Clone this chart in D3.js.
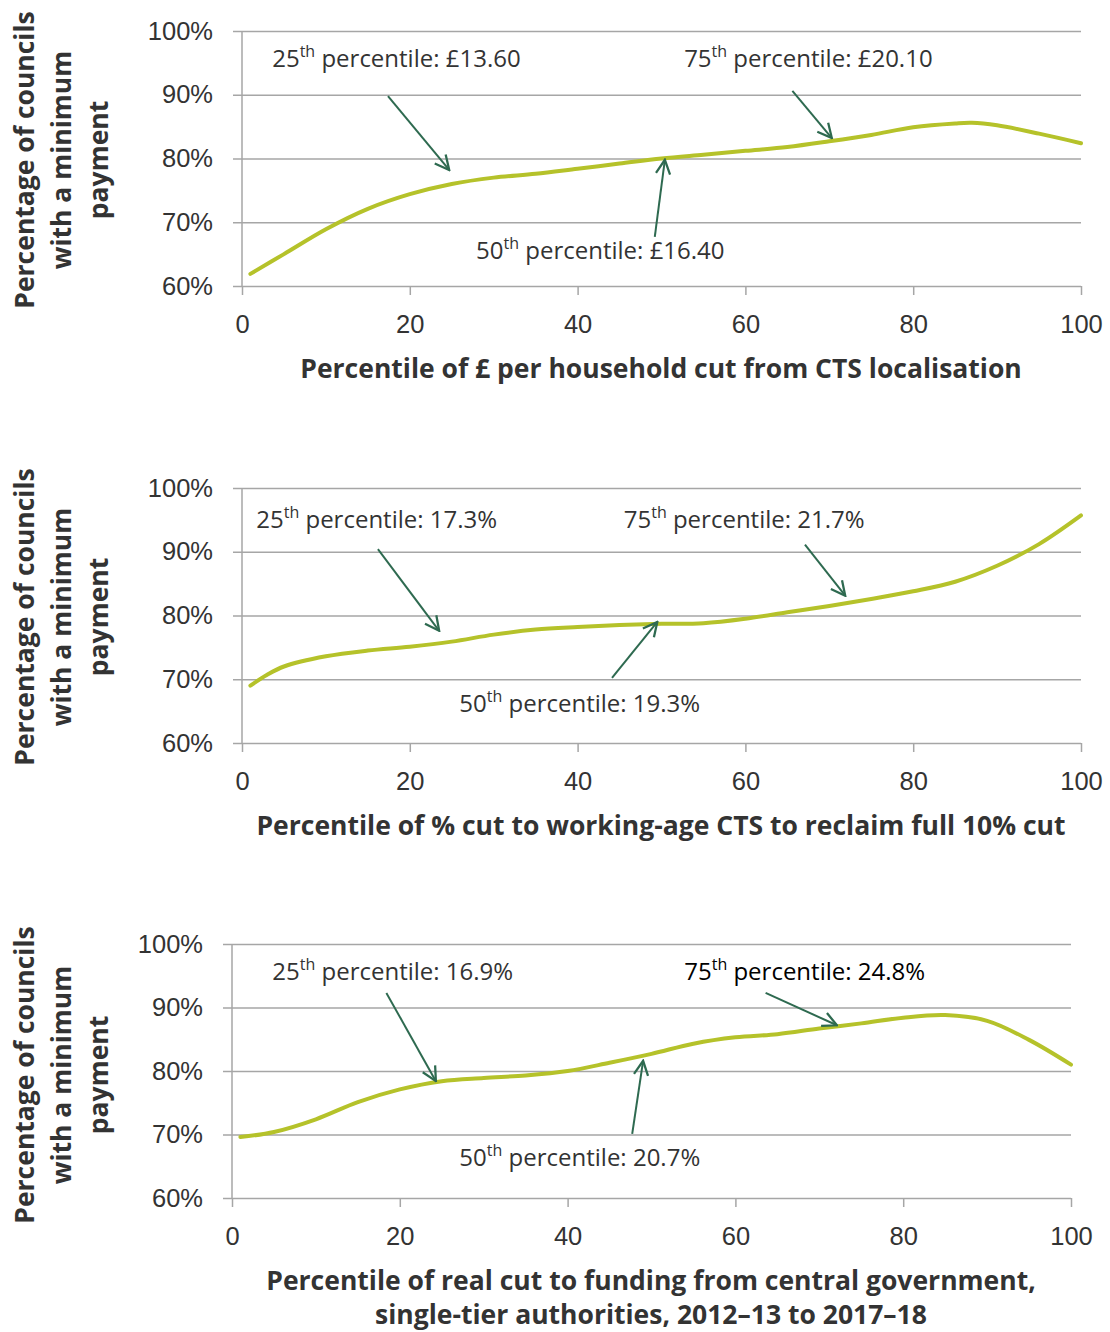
<!DOCTYPE html>
<html>
<head>
<meta charset="utf-8">
<script src="https://cdn.jsdelivr.net/npm/d3@7"></script>
<style>
  body { margin: 0; background: #fff; }
  svg { font-family: "Open Sans", "Noto Sans", sans-serif; }
  .tick text { fill: #333; font-size: 25.5px; }
</style>
</head>
<body>
<script>

// percentile positions and % of councils with a minimum payment
var xs1 = [1, 5, 10, 15, 20, 25, 30, 35, 40, 45, 50, 55, 60, 65, 70, 75, 80, 85, 87, 90, 95, 100];
var ys1 = [61.9, 65.0, 68.9, 72.1, 74.4, 76.0, 77.0, 77.6, 78.4, 79.2, 80.0, 80.6, 81.2, 81.8, 82.7, 83.7, 84.9, 85.5, 85.6, 85.2, 83.9, 82.4];

var xs2 = [1, 3, 5, 10, 15, 20, 25, 30, 35, 40, 45, 50, 55, 60, 65, 70, 75, 80, 85, 90, 95, 100];
var ys2 = [69.0, 70.7, 72.0, 73.6, 74.5, 75.1, 75.9, 77.0, 77.8, 78.2, 78.5, 78.7, 78.8, 79.5, 80.5, 81.5, 82.6, 83.8, 85.3, 87.8, 91.2, 95.7];

var xs3 = [1, 5, 10, 15, 20, 25, 30, 35, 40, 45, 50, 55, 60, 65, 70, 75, 80, 85, 90, 95, 100];
var ys3 = [69.6, 70.4, 72.4, 75.1, 77.1, 78.4, 78.9, 79.3, 80.0, 81.3, 82.7, 84.3, 85.3, 85.8, 86.7, 87.5, 88.4, 88.8, 87.9, 84.9, 81.0];

var xTicks = [0, 20, 40, 60, 80, 100];
var yTicks = [60, 70, 80, 90, 100];

var yTitle = ["Percentage of councils", "with a minimum", "payment"];
var xTitle1 = ["Percentile of £ per household cut from CTS localisation"];
var xTitle2 = ["Percentile of % cut to working-age CTS to reclaim full 10% cut"];
var xTitle3 = ["Percentile of real cut to funding from central government,", "single-tier authorities, 2012\u201313 to 2017\u201318"];

// annotations: ordinal, text, label anchor (data), arrow start -> tip (data)
var notes1 = [
  {n: "25", t: " percentile: £13.60", lx: 3.6, ly: 94.4, x1: 17.4, y1: 89.8, x2: 24.7, y2: 78.2},
  {n: "75", t: " percentile: £20.10", lx: 52.7, ly: 94.4, x1: 65.6, y1: 90.6, x2: 70.3, y2: 83.2},
  {n: "50", t: " percentile: £16.40", lx: 27.9, ly: 64.2, x1: 49.2, y1: 67.7, x2: 50.4, y2: 79.8}
];
var notes2 = [
  {n: "25", t: " percentile: 17.3%", lx: 1.7, ly: 93.7, x1: 16.2, y1: 90.4, x2: 23.5, y2: 77.6},
  {n: "75", t: " percentile: 21.7%", lx: 45.5, ly: 93.7, x1: 67.1, y1: 91.1, x2: 71.9, y2: 83.1},
  {n: "50", t: " percentile: 19.3%", lx: 25.9, ly: 64.9, x1: 44.1, y1: 70.2, x2: 49.5, y2: 79.0}
];
var notes3 = [
  {n: "25", t: " percentile: 16.9%", lx: 4.8, ly: 94.3, x1: 18.4, y1: 92.3, x2: 24.3, y2: 78.4},
  {n: "75", t: " percentile: 24.8%", lx: 53.9, ly: 94.3, x1: 63.6, y1: 92.3, x2: 72.1, y2: 87.2, dark: true},
  {n: "50", t: " percentile: 20.7%", lx: 27.1, ly: 65.0, x1: 47.7, y1: 70.1, x2: 49.0, y2: 81.6}
];

var lineColor = "#b5c22a",
    arrowColor = "#2e6a50",
    gridColor = "#a6a6a6",
    textColor = "#333";

var svg = d3.select("body").append("svg")
    .attr("width", 1110)
    .attr("height", 1332);

svg.append("defs").append("marker")
    .attr("id", "head")
    .attr("viewBox", "0 0 12 12")
    .attr("refX", 11)
    .attr("refY", 6)
    .attr("markerWidth", 17)
    .attr("markerHeight", 17)
    .attr("markerUnits", "userSpaceOnUse")
    .attr("orient", "auto")
  .append("path")
    .attr("d", "M1,1 L11,6 L1,11")
    .attr("fill", "none")
    .attr("stroke", arrowColor)
    .attr("stroke-width", 1.6);

function drawPanel(p) {
  var width = p.right - p.left,
      height = p.bottom - p.top;

  var x = d3.scaleLinear().domain([0, 100]).range([0, width]);
  var y = d3.scaleLinear().domain([60, 100]).range([height, 0]);

  var g = svg.append("g")
      .attr("transform", "translate(" + p.left + "," + p.top + ")");

  // y axis + gridlines
  var yAxis = g.append("g")
      .call(d3.axisLeft(y).tickValues(yTicks).tickFormat(function(d) { return d + "%"; }).tickSize(9).tickPadding(20));
  yAxis.select(".domain").remove();
  yAxis.selectAll(".tick line")
      .attr("x1", -9)
      .attr("x2", width)
      .attr("stroke", gridColor)
      .attr("stroke-width", 1.5);

  // x axis
  var xAxis = g.append("g")
      .attr("transform", "translate(0," + height + ")")
      .call(d3.axisBottom(x).tickValues(xTicks).tickSize(9).tickSizeOuter(0).tickPadding(20));
  xAxis.select(".domain").remove();
  xAxis.selectAll(".tick line").attr("stroke", gridColor).attr("stroke-width", 1.5);

  g.append("line")
      .attr("x1", 0).attr("x2", 0)
      .attr("y1", 0).attr("y2", height)
      .attr("stroke", gridColor)
      .attr("stroke-width", 1.5);

  // the curve
  var pts = p.xs.map(function(d, i) { return [d, p.ys[i]]; });
  var line = d3.line()
      .x(function(d) { return x(d[0]); })
      .y(function(d) { return y(d[1]); })
      .curve(d3.curveCatmullRom.alpha(0.5));

  g.append("path")
      .datum(pts)
      .attr("fill", "none")
      .attr("stroke", lineColor)
      .attr("stroke-width", 4)
      .attr("stroke-linecap", "round")
      .attr("d", line);

  // annotations
  p.notes.forEach(function(a) {
    g.append("line")
        .attr("x1", x(a.x1)).attr("y1", y(a.y1))
        .attr("x2", x(a.x2)).attr("y2", y(a.y2))
        .attr("stroke", arrowColor)
        .attr("stroke-width", 2)
        .attr("marker-end", "url(#head)");

    var t = g.append("text")
        .attr("x", x(a.lx))
        .attr("y", y(a.ly))
        .attr("fill", a.dark ? "#000" : textColor)
        .style("font-size", "24px");
    t.append("tspan").text(a.n);
    t.append("tspan").attr("dy", -10).style("font-size", "16px").text("th");
    t.append("tspan").attr("dy", 10).text(a.t);
  });

  // y title
  var yt = svg.append("text")
      .attr("transform", "translate(" + p.ytX + "," + p.ytY + ") rotate(-90)")
      .attr("text-anchor", "middle")
      .attr("fill", textColor)
      .style("font-size", "26.5px")
      .style("font-weight", "bold");
  yTitle.forEach(function(s, i) {
    yt.append("tspan").attr("x", 0).attr("y", i * 37).text(s);
  });

  // x title
  var xt = svg.append("text")
      .attr("text-anchor", "middle")
      .attr("fill", textColor)
      .style("font-size", "26.5px")
      .style("font-weight", "bold");
  p.xTitle.forEach(function(s, i) {
    xt.append("tspan").attr("x", p.xtX).attr("y", p.xtY + i * 34).text(s);
  });
}

drawPanel({left: 242, right: 1081, top: 31, bottom: 286, xs: xs1, ys: ys1, notes: notes1,
  ytX: 34, ytY: 160, xTitle: xTitle1, xtX: 661, xtY: 378});
drawPanel({left: 242, right: 1081, top: 488, bottom: 743, xs: xs2, ys: ys2, notes: notes2,
  ytX: 34, ytY: 617, xTitle: xTitle2, xtX: 661, xtY: 835});
drawPanel({left: 232, right: 1071, top: 944, bottom: 1198, xs: xs3, ys: ys3, notes: notes3,
  ytX: 34, ytY: 1075, xTitle: xTitle3, xtX: 651, xtY: 1290});

</script>
</body>
</html>
